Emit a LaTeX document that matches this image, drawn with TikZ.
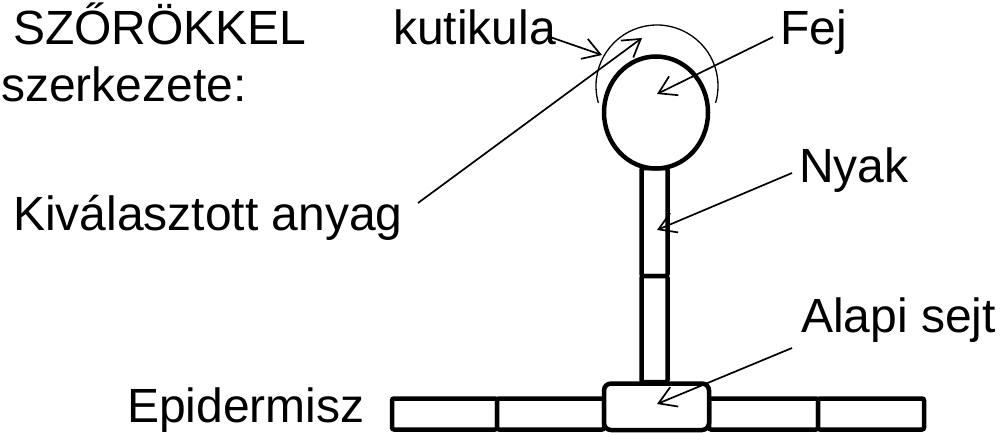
\documentclass[tikz,border=0pt]{standalone}
\usepackage{fontspec}
\setmainfont{Liberation Sans}
\usetikzlibrary{arrows.meta,shapes.geometric}
\begin{document}
\begin{tikzpicture}[x=1pt,y=-1pt,
  lbl/.style={font=\fontsize{48}{57}\selectfont, inner sep=0pt, anchor=base west},
  cellbox/.style={draw, line width=4.5pt, fill=white, inner sep=0pt, outer sep=0pt, rounded corners=2pt},
  pointer/.style={line width=1.7pt, -{Straight Barb[length=17pt,width=21pt,line width=1.7pt]}},
]
\useasboundingbox (0,0) rectangle (1003,433);

% epidermis cells
\node[cellbox, minimum width=105pt, minimum height=31pt] (epi1) at (444.5,414) {};
\node[cellbox, minimum width=107pt, minimum height=31pt] (epi2) at (550.5,414) {};
\node[cellbox, minimum width=109pt, minimum height=31pt] (epi3) at (763.5,414) {};
\node[cellbox, minimum width=106pt, minimum height=31pt] (epi4) at (871,414) {};

% neck (two stalk cells)
\node[cellbox, minimum width=26pt, minimum height=108pt] (neck1) at (654.5,222) {};
\node[cellbox, minimum width=26pt, minimum height=106pt] (neck2) at (654.5,329) {};

% basal cell
\node[cellbox, rounded corners=7pt, minimum width=105pt, minimum height=46.5pt] (basal) at (656.5,406.75) {};

% head
\node[ellipse, draw, line width=4.5pt, fill=white, inner sep=0pt, minimum width=104pt, minimum height=112pt] (head) at (656,112.5) {};

% cuticle
\coordinate (cutc) at (657,86);
\draw[line width=1.3pt] (cutc) ++(164:61) arc[start angle=164, end angle=376, radius=61];

% labels
\node[lbl] (title1) at (13,45) {SZŐRÖKKEL};
\node[lbl] (title2) at (1,102) {szerkezete:};
\node[lbl] (kut) at (393,45) {kutikula};
\node[lbl] (fej) at (780,45) {Fej};
\node[lbl] (nyak) at (799,182) {Nyak};
\node[lbl] (kiv) at (13,230) {Kiválasztott anyag};
\node[lbl] (alap) at (801,332) {Alapi sejt};
\node[lbl] (epid) at (127,422) {Epidermisz};

% pointer ends
\coordinate (kutS) at (550,37);
\coordinate (kutT) at (602,55);
\coordinate (kivS) at (418,203);
\coordinate (kivT) at (642,38);
\coordinate (fejS) at (773,37);
\coordinate (fejT) at (657,94);
\coordinate (nyakS) at (792,173);
\coordinate (nyakT) at (657,230);
\coordinate (alapS) at (792,348);
\coordinate (alapT) at (657,404);

\draw[pointer] (kutS) -- (kutT);
\draw[pointer] (kivS) -- (kivT);
\draw[pointer] (fejS) -- (fejT);
\draw[pointer] (nyakS) -- (nyakT);
\draw[pointer] (alapS) -- (alapT);
\end{tikzpicture}
\end{document}
